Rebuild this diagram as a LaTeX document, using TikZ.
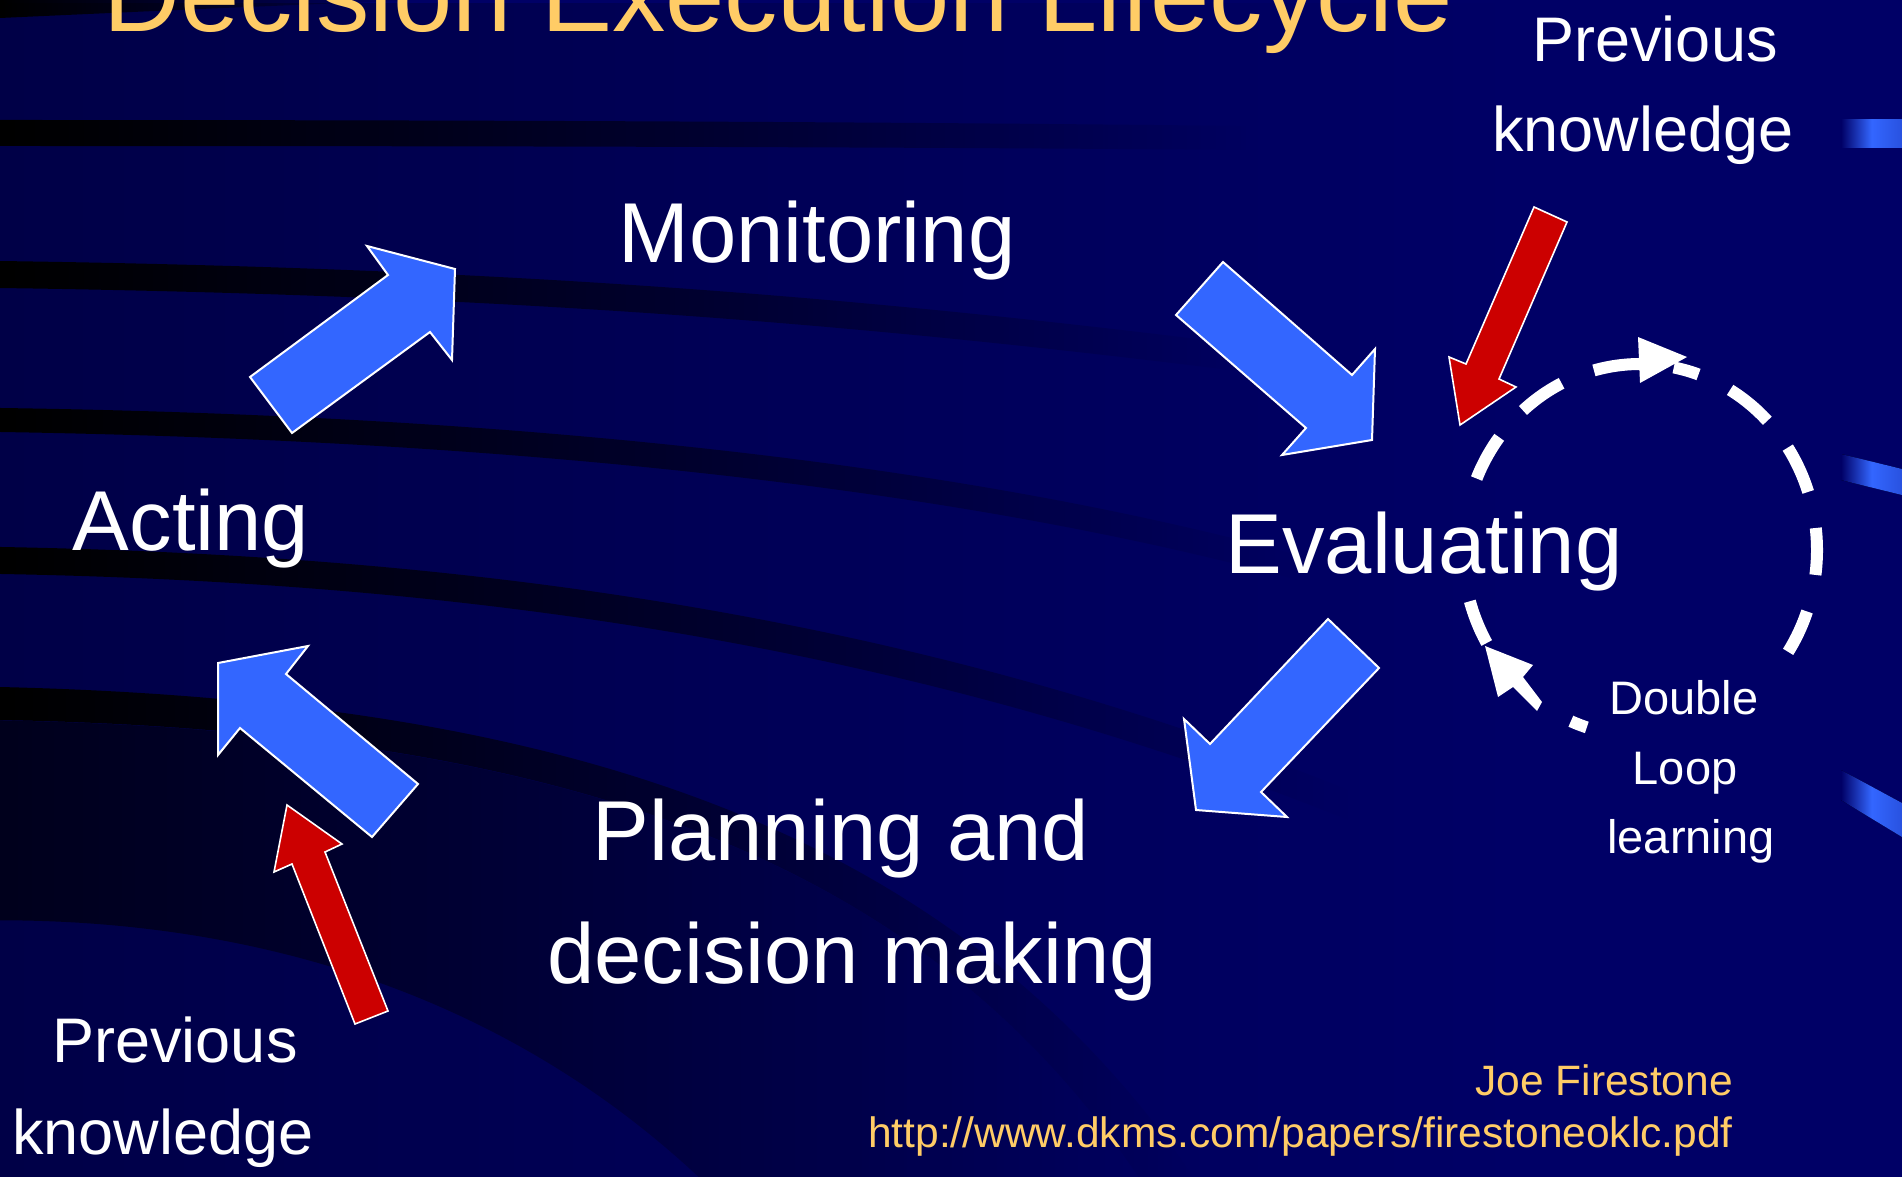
\documentclass[tikz,border=0pt]{standalone}
\usepackage{fontspec}
\setmainfont{Liberation Sans}
\usetikzlibrary{fadings}
\definecolor{bgnavy}{HTML}{000066}
\definecolor{arrowblue}{HTML}{3366FF}
\definecolor{arrowred}{HTML}{CC0000}
\definecolor{titleyellow}{HTML}{FFCC66}
\newcommand{\loopseg}[2]{\draw[loopdash] plot[domain=#1:#2, samples=14, variable=\t] ({1640+177*cos(\t)},{550+186*sin(\t)});}
\begin{document}
\begin{tikzpicture}[x=1pt,y=-1pt,
  bigarrow/.style={fill=arrowblue, draw=white, line width=2pt, line join=miter},
  redarrow/.style={fill=arrowred, draw=white, line width=1.6pt, line join=miter},
  loopdash/.style={draw=white, line width=12pt, line cap=butt},
  loophead/.style={fill=white},
  lbl/.style={text=white, inner sep=0pt, anchor=base},
  bigtxt/.style={lbl, font=\fontsize{85}{100}\selectfont},
  midtxt/.style={lbl, font=\fontsize{63}{75}\selectfont},
  smalltxt/.style={lbl, font=\fontsize{47}{56}\selectfont},
  credit/.style={text=titleyellow, inner sep=0pt, anchor=base east, font=\fontsize{42.5}{50}\selectfont},
  swoosh/.style={fill=black, path fading=east},
  edgebar/.style={left color=bgnavy, right color=arrowblue!80!bgnavy, middle color=arrowblue},
]
% background
\fill[bgnavy] (0,0) rectangle (1902,1177);
\useasboundingbox (0,0) rectangle (1902,1177);
\fill[black, fill opacity=0.3, path fading=east] (0,0) rectangle (1500,1177);
\fill[swoosh] (0,0) -- (420,0) .. controls (220,8) .. (0,18) -- cycle;
\fill[swoosh] (0,120) .. controls (500,120) and (900,122) .. (1250,126) -- (1250,150) .. controls (900,147) and (500,146) .. (0,146) -- cycle;
\fill[swoosh] (0,261) .. controls (500,268) and (850,295) .. (1250,345) -- (1250,372) .. controls (850,322) and (500,295) .. (0,288) -- cycle;
\fill[swoosh] (0,408) .. controls (500,415) and (950,460) .. (1300,555) -- (1300,580) .. controls (950,485) and (500,440) .. (0,432) -- cycle;
\fill[swoosh] (0,547) .. controls (450,555) and (900,610) .. (1350,790) -- (1350,820) .. controls (900,640) and (450,582) .. (0,574) -- cycle;
\fill[swoosh] (0,687) .. controls (550,700) and (950,820) .. (1195,1177) -- (1140,1177) .. controls (920,850) and (550,730) .. (0,720) -- cycle;
\fill[black, fill opacity=0.6, path fading=east] (0,720) .. controls (550,730) and (920,850) .. (1140,1177) -- (700,1177) .. controls (500,990) and (250,920) .. (0,920) -- cycle;
\fill[edgebar] (1841,120) rectangle (1902,148);
\fill[edgebar] (1841,454) -- (1902,469) -- (1902,495) -- (1841,480) -- cycle;
\fill[edgebar] (1841,770) -- (1902,803) -- (1902,837) -- (1841,800) -- cycle;

% title
\node[text=titleyellow, inner sep=0pt, anchor=base west, font=\fontsize{106.5}{120}\selectfont] (title) at (103,32) {Decision Execution Lifecycle};

% labels
\node[bigtxt] (monitoring) at (817,262) {Monitoring};
\node[bigtxt] (acting) at (191,550) {Acting};
\node[bigtxt] (evaluating) at (1424,573) {Evaluating};
\node[bigtxt] (plan1) at (841,860) {Planning and};
\node[bigtxt] (plan2) at (852,983) {decision making};
\node[midtxt] (prevTop1) at (1655,62) {Previous};
\node[midtxt] (prevTop2) at (1643,152) {knowledge};
\node[midtxt] (prevBot1) at (175,1062) {Previous};
\node[midtxt] (prevBot2) at (163,1154) {knowledge};
\node[smalltxt] (dbl1) at (1684,714) {Double};
\node[smalltxt] (dbl2) at (1685,784) {Loop};
\node[smalltxt] (dbl3) at (1691,853) {learning};
\node[credit] (author) at (1733,1095) {Joe Firestone};
\node[credit] (url) at (1733,1147) {http://www.dkms.com/papers/firestoneoklc.pdf};

% cycle arrows
\draw[bigarrow] (250,377) -- (388,275) -- (367,246) -- (455,269) -- (452,360) -- (430,332) -- (292,433) -- cycle;
\draw[bigarrow] (1176,315) -- (1223,262) -- (1352,375) -- (1375,349) -- (1372,440) -- (1282,455) -- (1306,428) -- cycle;
\draw[bigarrow] (1328,619) -- (1379,668) -- (1261,792) -- (1287,817) -- (1196,810) -- (1184,719) -- (1210,744) -- cycle;
\draw[bigarrow] (418,784) -- (372,837) -- (240,728) -- (218,755) -- (218,663) -- (308,646) -- (286,674) -- cycle;

% previous knowledge arrows
\draw[redarrow] (1534,207) -- (1567,222) -- (1499,379) -- (1516,387) -- (1460,425) -- (1449,357) -- (1466,364) -- cycle;
\draw[redarrow] (287,805) -- (342,844) -- (325,852) -- (388,1011) -- (355,1024) -- (292,864) -- (274,872) -- cycle;

% double loop
\loopseg{202.6}{217.3}
\loopseg{228.6}{243.7}
\loopseg{254.9}{271}
\loopseg{281}{289.3}
\loopseg{300.6}{316}
\loopseg{326.6}{341.8}
\loopseg{353.2}{367.7}
\loopseg{379.3}{393.2}
\loopseg{107.5}{113}
\loopseg{150}{164}
\fill[loophead] (1638,337) -- (1687,357) -- (1640,383) -- cycle;
\fill[loophead] (1485,646) -- (1533,665) -- (1523,677) -- (1542,702) -- (1537,711) -- (1513,687) -- (1498,697) -- cycle;
\end{tikzpicture}
\end{document}
